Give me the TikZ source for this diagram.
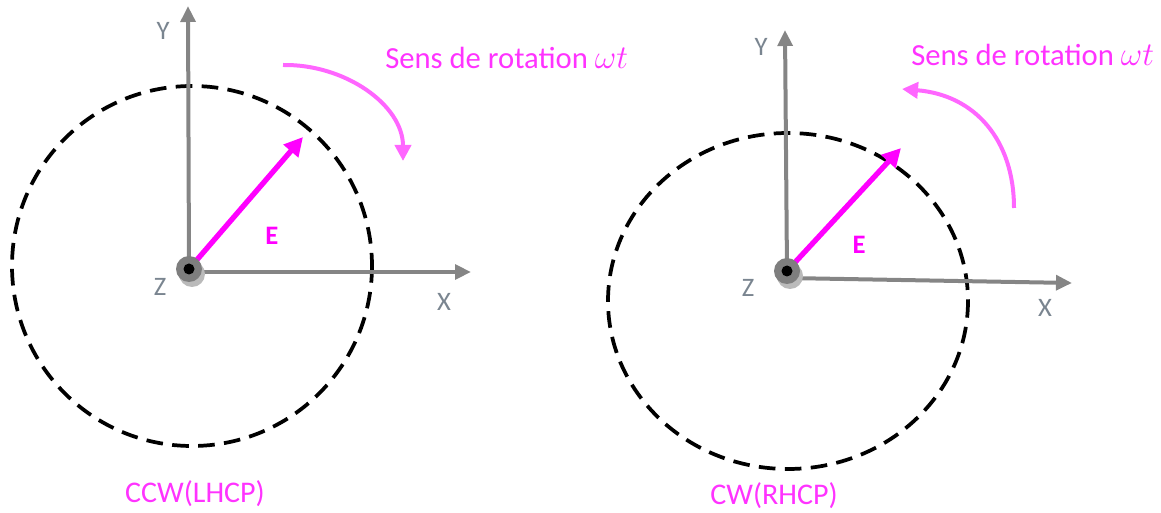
\documentclass[tikz,border=0pt]{standalone}
\usepackage{fontspec}
\setmainfont{Carlito}
\usetikzlibrary{arrows.meta,calc}
\definecolor{axisgray}{HTML}{858585}
\definecolor{labgray}{HTML}{7A8590}
\definecolor{emag}{HTML}{FF00FF}
\definecolor{rotmag}{HTML}{FF66FF}
\definecolor{txtmag}{HTML}{FF33FF}
\tikzset{
  axis/.style={draw=axisgray, line width=3pt, -{Triangle[length=12pt,width=11pt]}},
  efield/.style={draw=emag, line width=4pt, -{Triangle[length=14pt,width=14pt]}},
  rotarrow/.style={draw=rotmag, line width=3pt, -{Triangle[length=12pt,width=12pt]}},
  dashcircle/.style={draw=black, line width=2.8pt, dash pattern=on 12.5pt off 7pt},
  axlabel/.style={text=labgray, font=\fontsize{20}{20}\selectfont, inner sep=0pt},
  rottext/.style={text=txtmag, font=\fontsize{23}{23}\selectfont, inner sep=0pt},
  caption/.style={text=txtmag, font=\fontsize{22.5}{22.5}\selectfont, inner sep=0pt},
  elabel/.style={text=emag, font=\bfseries\fontsize{20}{20}\selectfont, inner sep=0pt},
}
\newcommand{\originmark}[1]{%
  \fill[black!27] ($(#1)+(3,5)$) circle (13);
  \fill[axisgray!95!black] (#1) circle (13);
  \fill[black] (#1) circle (5.5);
}
\begin{document}
\begin{tikzpicture}[x=0.75pt, y=-0.75pt]
\useasboundingbox (0,0) rectangle (1161,513);
% ---------------- Left diagram ----------------
\coordinate (O1) at (189,269);
\coordinate (C1) at (192,266);
\coordinate (Y1) at (188,6);
\coordinate (X1s) at (189,272);
\coordinate (X1) at (471,272);
\coordinate (E1) at (303,137);
\draw[dashcircle] (C1) circle (180);
\draw[axis] (O1) -- (Y1);
\draw[axis] (X1s) -- (X1);
\draw[efield] (O1) -- (E1);
\originmark{O1}
\node[axlabel] (ly1) at (163,31) {Y};
\node[axlabel] (lx1) at (444,302) {X};
\node[axlabel] (lz1) at (160,287) {Z};
\node[elabel] (le1) at (272,236) {E};
\coordinate (R1s) at (283,65);
\coordinate (R1e) at (403,161);
\draw[rotarrow] (R1s) .. controls (345,64) and (403,105) .. (R1e);
\node[rottext, anchor=west] (t1) at (385,58) {Sens de rotation $\omega t$};
\node[caption] (c1) at (195,494) {CCW(LHCP)};
% ---------------- Right diagram ----------------
\coordinate (O2) at (787,271);
\coordinate (C2) at (788,301);
\coordinate (Y2) at (785,30);
\coordinate (X2s) at (787,278);
\coordinate (X2) at (1072,283);
\coordinate (E2) at (901,148);
\draw[dashcircle] (C2) ellipse [x radius=180, y radius=168];
\draw[axis] (O2) -- (Y2);
\draw[axis] (X2s) -- (X2);
\draw[efield] (O2) -- (E2);
\originmark{O2}
\node[axlabel] (ly2) at (761,47) {Y};
\node[axlabel] (lx2) at (1045,308) {X};
\node[axlabel] (lz2) at (748,288) {Z};
\node[elabel] (le2) at (859,245) {E};
\coordinate (R2s) at (1014,208);
\coordinate (R2e) at (902,89);
\draw[rotarrow] (R2s) .. controls (1014,140) and (975,95) .. (R2e);
\node[rottext, anchor=west] (t2) at (911,55) {Sens de rotation $\omega t$};
\node[caption] (c2) at (774,496) {CW(RHCP)};
\end{tikzpicture}
\end{document}
